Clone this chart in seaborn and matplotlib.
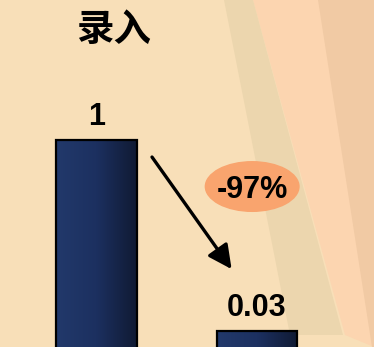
import numpy as np
import pandas as pd
import matplotlib
matplotlib.use("Agg")
import matplotlib.pyplot as plt
from matplotlib.patches import Polygon, Ellipse
from matplotlib.transforms import IdentityTransform
import seaborn as sns

# --- data ---
stages = ["改进前", "改进后"]
values = [1, 0.03]
title_text = "录入"

df = pd.DataFrame({"stage": stages, "value": values})

sns.set_theme(style="white")
plt.rcParams["font.family"] = ["Liberation Sans", "Noto Sans CJK SC", "DejaVu Sans"]

W, H, DPI = 374, 347, 100
fig = plt.figure(figsize=(W / DPI, H / DPI), dpi=DPI)

# --- slide-style background with slanted light bands (pixel coords, y down) ---
bg = fig.add_axes([0, 0, 1, 1], zorder=0)
bg.set_xlim(0, W)
bg.set_ylim(H, 0)
bg.axis("off")
bg.add_patch(Polygon([(0, 0), (W, 0), (W, H), (0, H)], closed=True,
                     facecolor="#F8DFB8", edgecolor="none"))
bg.add_patch(Polygon([(253, 0), (W, 0), (W, H), (345, 335)], closed=True,
                     facecolor="#FCD5B0", edgecolor="none"))
bg.add_patch(Polygon([(318, 0), (W, 0), (W, 360)], closed=True,
                     facecolor="#F1CAA4", edgecolor="none"))
bg.add_patch(Polygon([(224, 0), (253, 0), (343, 335), (290, 335)], closed=True,
                     facecolor="#ECD6AE", edgecolor="none"))

# --- bar axes (log scale so both values stay readable) ---
ax = fig.add_axes([0, 0, 1, 1], zorder=1)
ax.patch.set_alpha(0)
sns.barplot(data=df, x="stage", y="value", ax=ax, width=0.5,
            color="#1F3568", edgecolor="black", linewidth=1.6, zorder=2)
ax.set_yscale("log")
ax.set_ylim(0.0224, 13.07)
ax.set_xlim(-0.601, 1.729)
ax.axis("off")

# horizontal gradient fill inside each bar
grad = np.linspace(0, 1, 256).reshape(1, -1)
cmap = matplotlib.colors.LinearSegmentedColormap.from_list(
    "bar", ["#22396B", "#1C3060", "#101A33"])
x0l, x1l = ax.get_xlim()
for bar in ax.patches:
    bx0 = bar.get_x()
    bx1 = bx0 + bar.get_width()
    fx0 = (bx0 - x0l) / (x1l - x0l)
    fx1 = (bx1 - x0l) / (x1l - x0l)
    im = ax.imshow(grad, cmap=cmap, aspect="auto", extent=(fx0, fx1, 0, 1),
                   transform=ax.transAxes, zorder=2.5, interpolation="bilinear")
    im.set_clip_path(bar)
    bar.set_zorder(3)
    bar.set_facecolor("none")

# value labels above bars
ax.bar_label(ax.containers[0], labels=[f"{v:g}" for v in values], padding=6,
             fontsize=22, fontweight="bold", color="black")

# title
fig.text(114 / W, 1 - 29 / H, title_text, ha="center", va="center",
         fontsize=27, fontweight="bold", color="black",
         family=["Noto Sans CJK SC", "DejaVu Sans"])

# arrow from first bar down toward second bar
ax.annotate("", xy=(0.842, 0.0935), xytext=(0.346, 0.732),
            arrowprops=dict(arrowstyle="-|>,head_length=1.2,head_width=0.6",
                            color="black", lw=2.4, shrinkA=0, shrinkB=0),
            zorder=4)

# percentage change badge
change = (values[1] - values[0]) / values[0]
cx, cy = 0.97, 0.426
fig.canvas.draw()
px, py = ax.transData.transform((cx, cy))
badge = Ellipse((px, py), 95, 51, transform=IdentityTransform(),
                facecolor="#F9A46E", edgecolor="none", zorder=4)
ax.add_patch(badge)
ax.text(cx, cy, f"{change:.0%}", ha="center", va="center_baseline",
        fontsize=22, fontweight="bold", color="black", zorder=5)

fig.savefig("out.png", dpi=DPI)
